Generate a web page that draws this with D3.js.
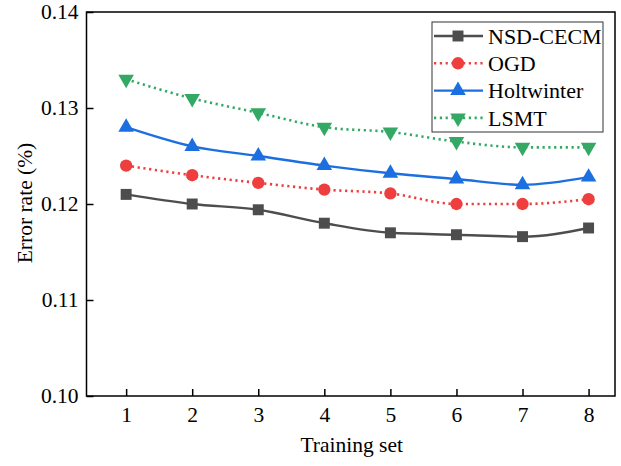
<!DOCTYPE html>
<html>
<head>
<meta charset="utf-8">
<script src="https://cdn.jsdelivr.net/npm/d3@7"></script>
<style>
  body { margin: 0; background: #fff; }
  svg text { font-family: "Times New Roman", "Liberation Serif", "DejaVu Serif", serif !important; fill: #000; }
</style>
</head>
<body>
<div id="chart"></div>
<script>
// data
var trainingSets = [1, 2, 3, 4, 5, 6, 7, 8];
var nsdCecm    = [0.1210, 0.1200, 0.1194, 0.1180, 0.1170, 0.1168, 0.1166, 0.1175];
var ogd        = [0.1240, 0.1230, 0.1222, 0.1215, 0.1211, 0.1200, 0.1200, 0.1205];
var holtwinter = [0.1280, 0.1260, 0.1250, 0.1240, 0.1232, 0.1226, 0.1220, 0.1228];
var lsmt       = [0.1330, 0.1310, 0.1295, 0.1280, 0.1275, 0.1265, 0.1259, 0.1259];
var yTicks = [0.10, 0.11, 0.12, 0.13, 0.14];

var series = [
    { name: "NSD-CECM",   values: nsdCecm,    color: "#4d4d4d", dash: null,      symbol: d3.symbolSquare,   size: 120, rot: 0 },
    { name: "OGD",        values: ogd,        color: "#ef3e3e", dash: "2.2,3.6", symbol: d3.symbolCircle,   size: 120, rot: 0 },
    { name: "Holtwinter", values: holtwinter, color: "#1c6fe0", dash: null,      symbol: d3.symbolTriangle, size: 105, rot: 0 },
    { name: "LSMT",       values: lsmt,       color: "#34a865", dash: "2.2,3.6", symbol: d3.symbolTriangle, size: 105, rot: 180 }
];

var width = 621, height = 466;
var margin = { left: 86.5, right: 6, top: 12, bottom: 70 };
var fontSize = "21.5px";

var svg = d3.select("#chart")
    .append("svg")
        .attr("width", width)
        .attr("height", height);

var x = d3.scaleLinear()
    .domain([0.4, 8.4])
    .range([margin.left, width - margin.right]);

var y = d3.scaleLinear()
    .domain([0.10, 0.14])
    .range([height - margin.bottom, margin.top]);

// axes with inward ticks
svg.append("g")
    .attr("transform", "translate(0," + (height - margin.bottom) + ")")
    .call(d3.axisBottom(x).tickValues(trainingSets).tickSize(-7).tickPadding(11).tickFormat(d3.format("d")))
    .call(function(g){
        g.select(".domain").remove();
        g.selectAll("line").attr("stroke-width", 1.5);
        g.selectAll("text").attr("font-size", fontSize);
    });

svg.append("g")
    .attr("transform", "translate(" + margin.left + ",0)")
    .call(d3.axisLeft(y).tickValues(yTicks).tickSize(-7).tickPadding(8).tickFormat(d3.format(".2f")))
    .call(function(g){
        g.select(".domain").remove();
        g.selectAll("line").attr("stroke-width", 1.5);
        g.selectAll("text").attr("font-size", fontSize);
    });

// frame
svg.append("rect")
    .attr("x", margin.left)
    .attr("y", margin.top)
    .attr("width", width - margin.right - margin.left)
    .attr("height", height - margin.bottom - margin.top)
    .attr("fill", "none")
    .attr("stroke", "#000")
    .attr("stroke-width", 1.5);

// axis titles
svg.append("text")
    .attr("x", (margin.left + width - margin.right) / 2 + 1)
    .attr("y", 452)
    .attr("text-anchor", "middle")
    .attr("font-size", fontSize)
    .text("Training set");

svg.append("text")
    .attr("transform", "translate(32," + 203 + ") rotate(-90)")
    .attr("text-anchor", "middle")
    .attr("font-size", fontSize)
    .text("Error rate (%)");

var line = d3.line()
    .x(function(d, i){ return x(trainingSets[i]); })
    .y(function(d){ return y(d); })
    .curve(d3.curveMonotoneX);

var plot = svg.append("g");

series.forEach(function(s){
    plot.append("path")
        .datum(s.values)
        .attr("d", line)
        .attr("fill", "none")
        .attr("stroke", s.color)
        .attr("stroke-width", s.dash ? 2.6 : 2.4)
        .attr("stroke-dasharray", s.dash);

    plot.selectAll(null)
        .data(s.values)
        .enter()
        .append("path")
        .attr("d", d3.symbol().type(s.symbol).size(s.size))
        .attr("transform", function(d, i){
            return "translate(" + x(trainingSets[i]) + "," + y(d) + ") rotate(" + s.rot + ")";
        })
        .attr("fill", s.color);
});

// legend
var legend = svg.append("g");
legend.append("rect")
    .attr("x", 432)
    .attr("y", 22)
    .attr("width", 171)
    .attr("height", 110)
    .attr("fill", "#fff")
    .attr("stroke", "#333")
    .attr("stroke-width", 1);

series.forEach(function(s, i){
    var ly = 36 + i * 27.3;
    legend.append("line")
        .attr("x1", 434).attr("x2", 483)
        .attr("y1", ly).attr("y2", ly)
        .attr("stroke", s.color)
        .attr("stroke-width", s.dash ? 2.6 : 2.4)
        .attr("stroke-dasharray", s.dash);
    legend.append("path")
        .attr("d", d3.symbol().type(s.symbol).size(s.size))
        .attr("transform", "translate(458," + ly + ") rotate(" + s.rot + ")")
        .attr("fill", s.color);
    legend.append("text")
        .attr("x", 488)
        .attr("y", ly)
        .attr("dy", "0.35em")
        .attr("font-size", "22px")
        .text(s.name);
});
</script>
</body>
</html>
